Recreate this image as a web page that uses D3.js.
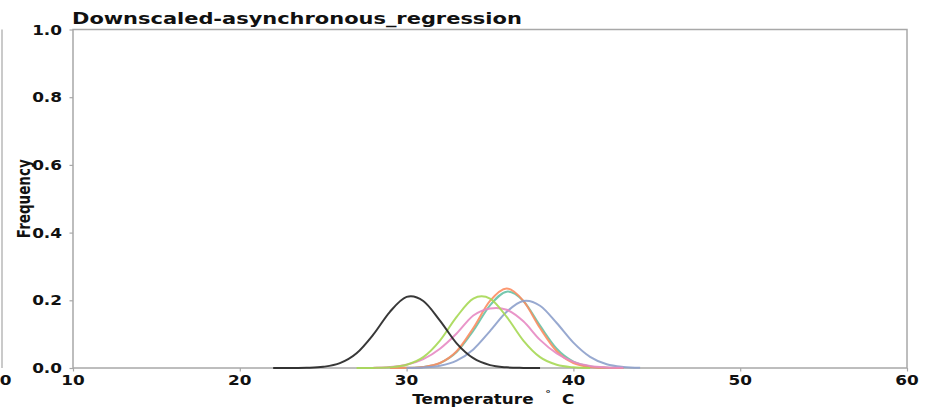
<!DOCTYPE html>
<html><head><meta charset="utf-8">
<script src="https://cdn.jsdelivr.net/npm/d3@7"></script>
<style>html,body{margin:0;padding:0;background:#fff;overflow:hidden}</style>
</head><body>
<svg id="c" width="925" height="409"></svg>
<script>
// ---- data ----
const title = "Downscaled-asynchronous_regression";
const xTicks = [10, 20, 30, 40, 50, 60];
const yTicks = [0.0, 0.2, 0.4, 0.6, 0.8, 1.0];
const temps = [22,23,24,25,26,27,28,29,30,31,32,33,34,35,36,37,38,39,40,41,42,43,44];
const seriesBlack  = [0.0000,0.0001,0.0006,0.0035,0.0143,0.0435,0.0986,0.166,0.210,0.198,0.140,0.073,0.029,0.0084,0.0019,0.0003,0.0000,null,null,null,null,null,null];
const seriesTeal   = [null,null,null,null,null,null,null,0.0001,0.0005,0.0032,0.0146,0.047,0.110,0.185,0.2256,0.198,0.125,0.057,0.0189,0.0045,0.0008,0.0001,null];
const seriesOrange = [null,null,null,null,null,null,null,0.0000,0.0005,0.0031,0.0147,0.0495,0.118,0.198,0.235,0.198,0.118,0.0495,0.0147,0.0031,0.0005,0.0000,null];
const seriesBlue   = [null,null,null,null,null,null,null,null,0.0003,0.0016,0.0068,0.022,0.055,0.109,0.166,0.198,0.184,0.133,0.075,0.033,0.011,0.003,0.0006];
const seriesPink   = [null,null,null,null,null,null,0.0007,0.0029,0.0097,0.026,0.057,0.102,0.155,0.176,0.172,0.138,0.083,0.043,0.018,0.006,0.0017,0.0004,null];
const seriesGreen  = [null,null,null,null,null,0.0000,0.0003,0.002,0.0094,0.032,0.081,0.151,0.205,0.205,0.151,0.081,0.032,0.0094,0.002,0.0003,null,null,null];

const seriesList = [
  {vals: seriesTeal,   color: "#66c2a5"},
  {vals: seriesOrange, color: "#fc8d62"},
  {vals: seriesBlue,   color: "#8da0cb"},
  {vals: seriesPink,   color: "#e78ac3"},
  {vals: seriesGreen,  color: "#a6d854"},
  {vals: seriesBlack,  color: "#222222"}
];

// ---- layout ----
const L = 73, R = 907, T = 29.5, B = 368;
const SX = 1.25; // horizontal text stretch
const font = "'DejaVu Sans', sans-serif";
const svg = d3.select("#c");
const x = d3.scaleLinear().domain([10, 60]).range([L, R]);
const y = d3.scaleLinear().domain([0, 1]).range([B, T]);

function stretchedText(g, str, tx, ty, size, anchor, rot, sx) {
  return g.append("text")
    .attr("transform", `translate(${tx},${ty}) scale(${sx || SX},1)` + (rot ? ` rotate(${rot})` : ""))
    .attr("font-family", font).attr("font-weight", "bold")
    .attr("font-size", size).attr("text-anchor", anchor).attr("fill", "#111")
    .text(str);
}

// remnants of the neighbouring panel at the left edge
svg.append("line").attr("x1", 2).attr("x2", 2).attr("y1", T).attr("y2", B)
  .attr("stroke", "#b8b8b8").attr("stroke-width", 1.5);
stretchedText(svg, "0", 5.5, 385, 13.5, "middle");

// frame
svg.append("rect").attr("x", L).attr("y", T).attr("width", R - L).attr("height", B - T)
  .attr("fill", "none").attr("stroke", "#a8a8a8").attr("stroke-width", 1.5);

// axes
const xAxis = svg.append("g").attr("transform", `translate(0,${B})`)
  .call(d3.axisBottom(x).tickValues(xTicks).tickSize(3.5).tickFormat(""));
const yAxis = svg.append("g").attr("transform", `translate(${L},0)`)
  .call(d3.axisLeft(y).tickValues(yTicks).tickSize(3.5).tickFormat(""));
[xAxis, yAxis].forEach(a => {
  a.select(".domain").remove();
  a.selectAll(".tick line").attr("stroke", "#a8a8a8").attr("stroke-width", 1.2);
});
xTicks.forEach(v => stretchedText(svg, d3.format("d")(v), x(v), 385, 13.5, "middle"));
yTicks.forEach(v => stretchedText(svg, d3.format(".1f")(v), L - 11, y(v) + 5, 13.5, "end"));

// labels
stretchedText(svg, title, L - 1, 23.5, 16, "start", null, 1.31);
stretchedText(svg, "Temperature", 473, 404, 13.5, "middle");
stretchedText(svg, "\u00b0", 548, 397, 9, "middle");
stretchedText(svg, "C", 562, 404, 13.5, "start");
stretchedText(svg, "Frequency", 30, (T + B) / 2, 13.5, "middle", -90);

// curves
const line = d3.line()
  .defined(d => d.v !== null)
  .x(d => x(d.t)).y(d => y(d.v))
  .curve(d3.curveCatmullRom.alpha(0));
seriesList.forEach(s => {
  const pts = temps.map((t, i) => ({t, v: s.vals[i]}));
  svg.append("path").datum(pts).attr("d", line)
    .attr("fill", "none").attr("stroke", s.color)
    .attr("stroke-width", 2).attr("stroke-opacity", 0.9);
});
</script>
</body></html>
